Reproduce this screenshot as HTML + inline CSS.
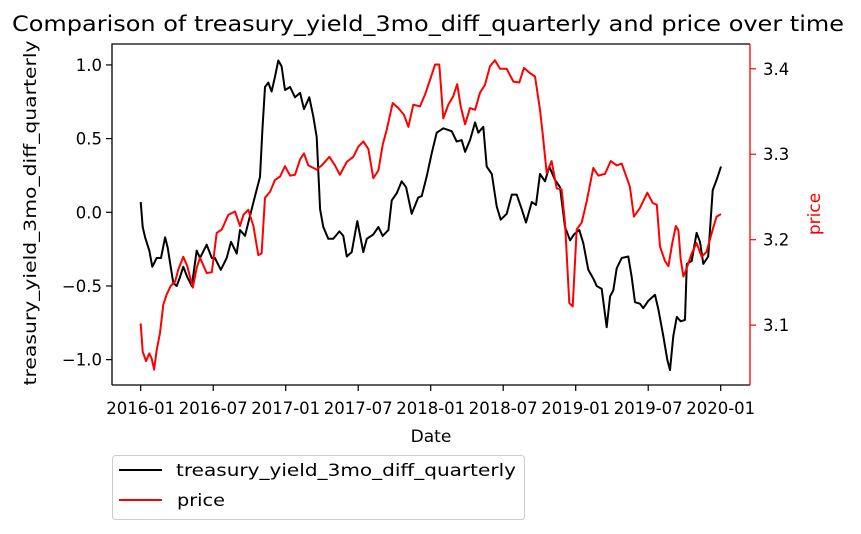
<!DOCTYPE html>
<html><head><meta charset="utf-8"><style>
body{margin:0;background:#fff}
svg{display:block;font-family:"DejaVu Sans","Liberation Sans",sans-serif}
</style></head><body>
<svg id="chart" width="861" height="534" viewBox="0 0 861 534">
<rect width="861" height="534" fill="#fff"/>
<text x="428" y="31" font-size="21" text-anchor="middle" textLength="832" lengthAdjust="spacingAndGlyphs">Comparison of treasury_yield_3mo_diff_quarterly and price over time</text>
<g id="plot"></g>
<text x="431" y="442" font-size="17" text-anchor="middle">Date</text>
<text transform="translate(36,213) rotate(-90)" font-size="17" text-anchor="middle" textLength="345" lengthAdjust="spacingAndGlyphs">treasury_yield_3mo_diff_quarterly</text>
<text transform="translate(820,214) rotate(-90)" font-size="17" text-anchor="middle" fill="red">price</text>
<g>
<rect x="112.5" y="455.5" width="412" height="64" rx="3" fill="#fff" stroke="#ccc"/>
<line x1="119" y1="470" x2="162" y2="470" stroke="#000" stroke-width="2"/>
<text x="176" y="476" font-size="17" textLength="340" lengthAdjust="spacingAndGlyphs">treasury_yield_3mo_diff_quarterly</text>
<line x1="119" y1="500" x2="162" y2="500" stroke="red" stroke-width="2"/>
<text x="177" y="506" font-size="17" textLength="48" lengthAdjust="spacingAndGlyphs">price</text>
</g>
</svg>
<script>
const xTickLabels=["2016-01","2016-07","2017-01","2017-07","2018-01","2018-07","2019-01","2019-07","2020-01"];
const xTickValues=[0,0.5,1,1.5,2,2.5,3,3.5,4];
const leftTicks=[1.0,0.5,0.0,-0.5,-1.0];
const rightTicks=[3.4,3.3,3.2,3.1];
const treasuryT=[0,.014,.030,.059,.080,.110,.140,.168,.186,.207,.225,.248,.271,.294,.321,.352,.386,.409,.455,.490,.512,.552,.593,.623,.662,.685,.719,.742,.788,.823,.839,.857,.880,.903,.926,.949,.972,.995,1.030,1.064,1.099,1.126,1.163,1.190,1.214,1.237,1.259,1.294,1.328,1.370,1.397,1.421,1.455,1.494,1.535,1.559,1.604,1.639,1.669,1.708,1.731,1.766,1.800,1.830,1.869,1.914,1.938,1.972,2.007,2.041,2.087,2.145,2.179,2.214,2.237,2.271,2.306,2.328,2.363,2.386,2.421,2.455,2.483,2.524,2.559,2.593,2.628,2.657,2.697,2.726,2.754,2.788,2.818,2.857,2.892,2.926,2.961,2.988,3.025,3.052,3.087,3.121,3.145,3.179,3.214,3.237,3.259,3.283,3.317,3.363,3.386,3.409,3.443,3.466,3.501,3.547,3.570,3.604,3.632,3.650,3.673,3.697,3.724,3.754,3.766,3.800,3.834,3.857,3.880,3.914,3.945,3.972,4.002];
const treasuryV=[0.07,-0.10,-0.17,-0.26,-0.37,-0.31,-0.31,-0.17,-0.24,-0.37,-0.48,-0.50,-0.44,-0.37,-0.44,-0.50,-0.26,-0.31,-0.22,-0.31,-0.31,-0.39,-0.31,-0.20,-0.28,-0.12,-0.16,-0.07,0.11,0.24,0.56,0.85,0.88,0.82,0.92,1.03,0.99,0.83,0.85,0.78,0.81,0.70,0.78,0.65,0.51,0.02,-0.10,-0.18,-0.18,-0.13,-0.16,-0.30,-0.27,-0.06,-0.27,-0.18,-0.15,-0.10,-0.16,-0.12,0.08,0.13,0.21,0.17,-0.01,0.10,0.11,0.24,0.40,0.54,0.57,0.55,0.48,0.49,0.41,0.49,0.61,0.54,0.58,0.31,0.26,0.04,-0.05,-0.01,0.12,0.12,0.02,-0.07,0.07,0.05,0.26,0.21,0.31,0.22,0.17,-0.10,-0.19,-0.15,-0.12,-0.21,-0.39,-0.45,-0.50,-0.52,-0.78,-0.57,-0.53,-0.38,-0.31,-0.30,-0.44,-0.61,-0.62,-0.65,-0.60,-0.56,-0.66,-0.84,-1.00,-1.07,-0.84,-0.71,-0.74,-0.73,-0.35,-0.33,-0.14,-0.20,-0.35,-0.30,0.15,0.22,0.31];
const priceT=[0,.014,.037,.059,.076,.092,.110,.133,.156,.179,.207,.237,.259,.294,.321,.359,.386,.409,.455,.490,.524,.559,.604,.650,.685,.708,.742,.777,.811,.834,.857,.892,.926,.961,.995,1.030,1.064,1.099,1.126,1.156,1.214,1.248,1.301,1.340,1.374,1.421,1.466,1.501,1.535,1.570,1.604,1.639,1.669,1.697,1.738,1.777,1.816,1.846,1.880,1.926,1.961,1.995,2.030,2.059,2.087,2.121,2.156,2.183,2.207,2.237,2.271,2.306,2.340,2.374,2.409,2.443,2.478,2.524,2.570,2.611,2.643,2.685,2.719,2.754,2.772,2.800,2.834,2.869,2.903,2.926,2.956,2.979,3.007,3.041,3.076,3.121,3.156,3.202,3.241,3.283,3.317,3.374,3.401,3.443,3.494,3.531,3.559,3.581,3.616,3.639,3.666,3.690,3.708,3.724,3.743,3.766,3.800,3.834,3.869,3.903,3.945,3.972,4.002];
const priceV=[3.102,3.069,3.058,3.067,3.061,3.048,3.071,3.091,3.124,3.136,3.146,3.151,3.165,3.180,3.169,3.144,3.167,3.179,3.161,3.162,3.208,3.212,3.229,3.233,3.216,3.229,3.235,3.216,3.182,3.184,3.249,3.256,3.270,3.274,3.286,3.275,3.276,3.294,3.301,3.287,3.282,3.287,3.297,3.287,3.276,3.291,3.297,3.309,3.315,3.306,3.272,3.281,3.311,3.329,3.360,3.354,3.346,3.332,3.358,3.356,3.370,3.387,3.405,3.405,3.342,3.358,3.368,3.382,3.356,3.335,3.354,3.352,3.372,3.381,3.403,3.410,3.400,3.400,3.385,3.384,3.401,3.395,3.391,3.352,3.325,3.278,3.292,3.260,3.259,3.220,3.126,3.122,3.212,3.220,3.245,3.284,3.275,3.277,3.292,3.287,3.289,3.262,3.227,3.237,3.255,3.243,3.241,3.192,3.175,3.169,3.196,3.216,3.211,3.177,3.157,3.167,3.184,3.196,3.180,3.186,3.212,3.227,3.230];

const L=112,R=750,T=44,B=385;
const xMin=-0.198,xMax=4.202,lMin=-1.172,lMax=1.142,rMin=3.030,rMax=3.429;
const xs=t=>L+(t-xMin)/(xMax-xMin)*(R-L);
const yl=v=>B-(v-lMin)/(lMax-lMin)*(B-T);
const yr=v=>B-(v-rMin)/(rMax-rMin)*(B-T);
const NS="http://www.w3.org/2000/svg";
const g=document.getElementById('plot');
function mk(tag,attrs){const e=document.createElementNS(NS,tag);for(const k in attrs)e.setAttribute(k,attrs[k]);g.appendChild(e);return e;}

let d1=treasuryT.map((t,i)=>(i?'L':'M')+xs(t).toFixed(1)+','+yl(treasuryV[i]).toFixed(1)).join('');
const p1=mk('path',{d:d1,fill:'none',stroke:'#000','stroke-width':2,'stroke-linejoin':'round'});


let d2=priceT.map((t,i)=>(i?'L':'M')+xs(t).toFixed(1)+','+yr(priceV[i]).toFixed(1)).join('');
const p2=mk('path',{d:d2,fill:'none',stroke:'red','stroke-width':2,'stroke-linejoin':'round'});



const frame=mk('path',{d:`M${L},${B}V${T}H${R}M${L},${B}H${R}`,fill:'none',stroke:'#000','stroke-width':1.3});


const rax=mk('line',{x1:R,y1:T,x2:R,y2:B,stroke:'red','stroke-width':1.3});



xTickValues.forEach((t,i)=>{
  const x=xs(t);
  const tk=mk('line',{x1:x,y1:B,x2:x,y2:B+6,stroke:'#000','stroke-width':1.2});
  
  
  const tx=mk('text',{x:x,y:B+29,'font-size':16.5,'text-anchor':'middle'});
  tx.textContent=xTickLabels[i];
  
  
});
leftTicks.forEach(v=>{
  const y=yl(v);
  const tk=mk('line',{x1:L-6,y1:y,x2:L,y2:y,stroke:'#000','stroke-width':1.2});
  
  
  const tx=mk('text',{x:L-10,y:y+6,'font-size':16.5,'text-anchor':'end'});
  tx.textContent=(v<0?'\u2212':'')+Math.abs(v).toFixed(1);
  
  
});
rightTicks.forEach(v=>{
  const y=yr(v);
  const tk=mk('line',{x1:R,y1:y,x2:R+6,y2:y,stroke:'red','stroke-width':1.2});
  
  
  const tx=mk('text',{x:R+13,y:y+6,'font-size':16.5});
  tx.textContent=v.toFixed(1);
  
  
});
</script>
</body></html>
